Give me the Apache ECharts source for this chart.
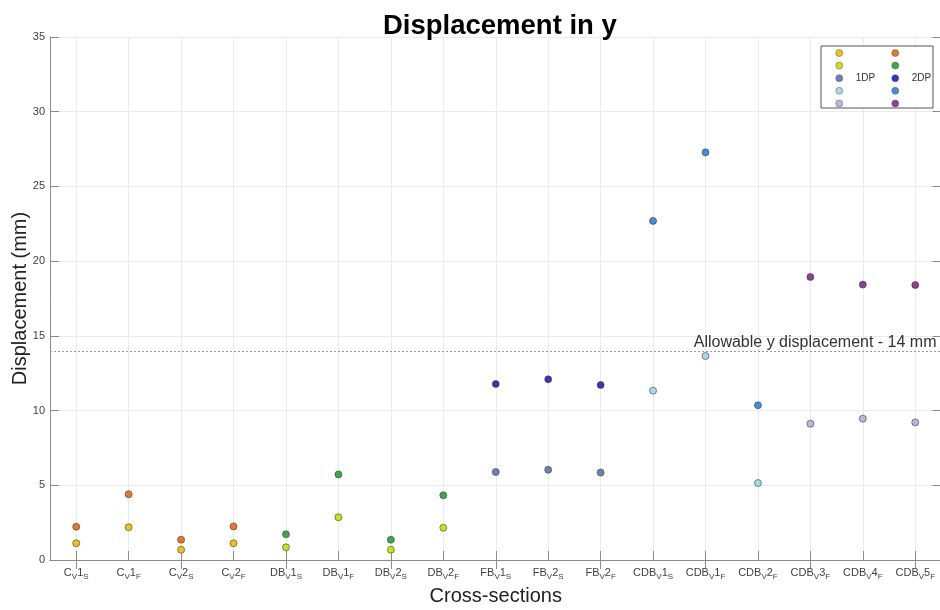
<!DOCTYPE html>
<html>
<head>
<meta charset="utf-8">
<script src="https://cdn.jsdelivr.net/npm/echarts@6/dist/echarts.min.js"></script>
<style>
  html, body { margin: 0; padding: 0; background: #fff; }
  #chart { width: 940px; height: 610px; }
</style>
</head>
<body>
<div id="chart"></div>
<script>
// Cross-section names: base_subscript digit _subscript
const categories = [
  'C_V1_S', 'C_V1_F', 'C_V2_S', 'C_V2_F',
  'DB_V1_S', 'DB_V1_F', 'DB_V2_S', 'DB_V2_F',
  'FB_V1_S', 'FB_V2_S', 'FB_V2_F',
  'CDB_V1_S', 'CDB_V1_F', 'CDB_V2_F', 'CDB_V3_F', 'CDB_V4_F', 'CDB_V5_F'
];
const yTicks = [0, 5, 10, 15, 20, 25, 30, 35];
const allowable = 14;

// Cross-sections covered by each group
const cSections   = ['C_V1_S', 'C_V1_F', 'C_V2_S', 'C_V2_F'];
const dbSections  = ['DB_V1_S', 'DB_V1_F', 'DB_V2_S', 'DB_V2_F'];
const fbSections  = ['FB_V1_S', 'FB_V2_S', 'FB_V2_F'];
const cdbaSections = ['CDB_V1_S', 'CDB_V1_F', 'CDB_V2_F'];
const cdbbSections = ['CDB_V3_F', 'CDB_V4_F', 'CDB_V5_F'];

// Displacement (mm), single deck panel
const c1DP   = [1.12, 2.19, 0.69, 1.12];
const db1DP  = [0.85, 2.86, 0.69, 2.16];
const fb1DP  = [5.89, 6.04, 5.85];
const cdba1DP = [11.33, 13.65, 5.15];
const cdbb1DP = [9.12, 9.46, 9.21];

// Displacement (mm), double deck panel
const c2DP   = [2.23, 4.40, 1.36, 2.25];
const db2DP  = [1.72, 5.73, 1.36, 4.33];
const fb2DP  = [11.78, 12.09, 11.71];
const cdba2DP = [22.69, 27.28, 10.35];
const cdbb2DP = [18.94, 18.43, 18.40];

const groups1 = [
  { name: 'C 1DP',    cats: cSections,    vals: c1DP,    color: '#EDC21C' },
  { name: 'DB 1DP',   cats: dbSections,   vals: db1DP,   color: '#C9E01E' },
  { name: 'FB 1DP',   cats: fbSections,   vals: fb1DP,   color: '#6C82B4' },
  { name: 'CDBa 1DP', cats: cdbaSections, vals: cdba1DP, color: '#A9D8E6' },
  { name: 'CDBb 1DP', cats: cdbbSections, vals: cdbb1DP, color: '#BBB6DC' }
];
const groups2 = [
  { name: 'C 2DP',    cats: cSections,    vals: c2DP,    color: '#E8772B' },
  { name: 'DB 2DP',   cats: dbSections,   vals: db2DP,   color: '#3EA64B' },
  { name: 'FB 2DP',   cats: fbSections,   vals: fb2DP,   color: '#3B35B5' },
  { name: 'CDBa 2DP', cats: cdbaSections, vals: cdba2DP, color: '#3F90D8' },
  { name: 'CDBb 2DP', cats: cdbbSections, vals: cdbb2DP, color: '#8E3E93' }
];

const FONT = '"Liberation Sans", Arial, sans-serif';
const AXIS_GREY = '#8a8a8a';
const GRID_GREY = '#ebebeb';

function makeSeries(g) {
  return {
    name: g.name,
    type: 'scatter',
    xAxisIndex: 0,
    yAxisIndex: 0,
    symbol: 'circle',
    symbolSize: 7,
    itemStyle: { color: g.color, borderColor: '#3c3c3c', borderWidth: 0.6, opacity: 1 },
    emphasis: { disabled: true },
    data: g.cats.map((c, i) => [c, g.vals[i]])
  };
}

const series = groups1.concat(groups2).map(makeSeries);
series[series.length - 1].markLine = {
  silent: true,
  symbol: 'none',
  animation: false,
  lineStyle: { color: '#9a9a9a', width: 1, type: [2, 2] },
  label: {
    show: true,
    position: 'insideEndTop',
    formatter: 'Allowable y displacement - ' + allowable + ' mm',
    color: '#333',
    fontFamily: FONT,
    fontSize: 16,
    distance: [5, 0]
  },
  data: [{ yAxis: allowable }]
};

function catLabel(v) {
  const p = v.split('_');          // ['C', 'V1', 'S']
  return '{m|' + p[0] + '}{s|' + p[1][0] + '}{m|' + p[1].slice(1) + '}{s|' + p[2] + '}';
}

function legendFor(groups, left, text) {
  return {
    show: true,
    orient: 'vertical',
    left: left,
    top: 48,
    itemWidth: 7,
    itemHeight: 7,
    itemGap: 2.6,
    icon: 'circle',
    selectedMode: false,
    padding: 0,
    data: groups.map(g => g.name),
    // only the middle row carries the group caption
    formatter: name => (name === groups[2].name ? text : ' '),
    itemStyle: { borderColor: '#5a5a5a', borderWidth: 0.5 },
    textStyle: { fontFamily: FONT, fontSize: 10, color: '#333', lineHeight: 8.7, padding: [0, 0, 0, 8] }
  };
}

const grid = { left: 50, top: 37, width: 891.5, height: 523, outerBoundsMode: 'none', containLabel: false };

const option = {
  animation: false,
  backgroundColor: '#fff',
  title: {
    text: 'Displacement in y',
    left: 378,
    top: 7,
    textStyle: { fontFamily: FONT, fontSize: 27.5, fontWeight: 'bold', color: '#000' }
  },
  graphic: [{
    type: 'rect',
    shape: { x: 821, y: 46, width: 112, height: 62 },
    style: { fill: '#fff', stroke: '#555', lineWidth: 1 },
    z: 3
  }],
  legend: [legendFor(groups1, 835.5, '1DP'), legendFor(groups2, 891.5, '2DP')],
  grid: grid,
  xAxis: [{
    type: 'category',
    data: categories,
    boundaryGap: true,
    position: 'bottom',
    name: 'Cross-sections',
    nameLocation: 'middle',
    nameGap: 26,
    nameTextStyle: { fontFamily: FONT, fontSize: 20, color: '#222' },
    axisLine: { show: true, lineStyle: { color: AXIS_GREY, width: 1 } },
    axisTick: { show: true, inside: true, length: 9, alignWithLabel: true, lineStyle: { color: AXIS_GREY } },
    splitLine: { show: true, alignWithLabel: true, lineStyle: { color: GRID_GREY, width: 1 } },
    axisLabel: {
      interval: 0,
      margin: 6,
      formatter: catLabel,
      rich: {
        m: { fontFamily: FONT, fontSize: 11, color: '#404040', lineHeight: 14 },
        s: { fontFamily: FONT, fontSize: 8, color: '#404040', lineHeight: 14, padding: [7, 0, 0, 0] }
      }
    }
  }, {
    type: 'category',
    data: categories,
    boundaryGap: true,
    position: 'top',
    axisLine: { show: true, lineStyle: { color: AXIS_GREY, width: 1 } },
    axisTick: { show: true, inside: true, length: 9, alignWithLabel: true, lineStyle: { color: AXIS_GREY } },
    axisLabel: { show: false },
    splitLine: { show: false }
  }],
  yAxis: [{
    type: 'value',
    min: yTicks[0],
    max: yTicks[yTicks.length - 1],
    interval: 5,
    name: 'Displacement (mm)',
    nameLocation: 'middle',
    nameGap: 20,
    nameMoveOverlap: false,
    nameTextStyle: { fontFamily: FONT, fontSize: 20, color: '#222' },
    axisLine: { show: true, lineStyle: { color: AXIS_GREY, width: 1 } },
    axisTick: { show: true, inside: true, length: 9, lineStyle: { color: AXIS_GREY } },
    splitLine: { show: true, lineStyle: { color: GRID_GREY, width: 1 } },
    axisLabel: { fontFamily: FONT, fontSize: 11, color: '#404040', margin: 5 }
  }, {
    type: 'value',
    min: yTicks[0],
    max: yTicks[yTicks.length - 1],
    interval: 5,
    position: 'right',
    axisLine: { show: true, lineStyle: { color: AXIS_GREY, width: 1 } },
    axisTick: { show: true, inside: true, length: 9, lineStyle: { color: AXIS_GREY } },
    splitLine: { show: false },
    axisLabel: { show: false }
  }],
  series: series
};

const chart = echarts.init(document.getElementById('chart'), null, { renderer: 'canvas' });
chart.setOption(option);
</script>
</body>
</html>
